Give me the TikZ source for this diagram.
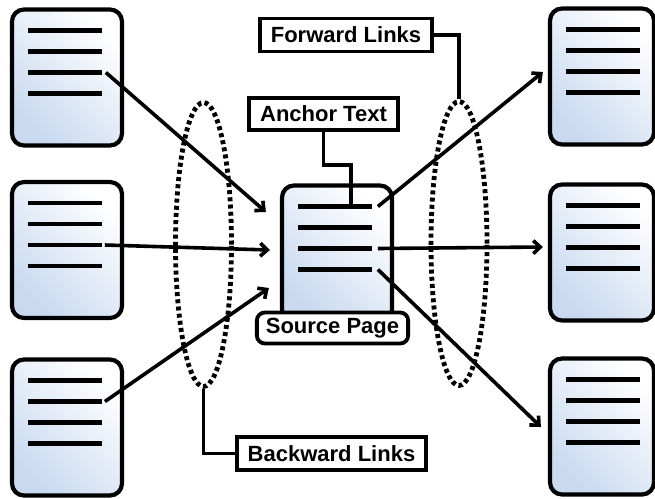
\documentclass[tikz,border=0pt]{standalone}
\usepackage{fontspec}
\setmainfont{Liberation Sans}
\usetikzlibrary{arrows.meta,calc,shapes.geometric}

\definecolor{pageblue}{RGB}{200,217,240}

\tikzset{
  docpage/.style={draw, line width=4.2pt, rounded corners=12pt,
    left color=white, right color=pageblue, shading angle=-45,
    minimum width=110pt, minimum height=136pt, inner sep=0pt},
  docline/.style={line width=4.5pt},
  link/.style={line width=3.6pt, -{Straight Barb[length=7pt,width=13pt,line width=3.6pt]}},
  tagbox/.style={draw, line width=3.8pt, fill=white, inner xsep=11pt,
    minimum height=33pt, font=\fontsize{22}{24}\selectfont\bfseries},
  callout/.style={line width=3.6pt},
  group/.style={draw, ellipse, line width=4.8pt, dash pattern=on 4pt off 3.2pt,
    minimum width=56pt, minimum height=284pt, inner sep=0pt}
}

% four text lines in a page, end points named <page>-1 ... <page>-4
\newcommand{\pagelines}[1]{%
  \foreach \d [count=\i] in {-47,-26,-5,16}
    \draw[docline] ($(#1.west)+(18,\d)$) -- ($(#1.west)+(92,\d)$) coordinate (#1-\i);
}

\begin{document}
\begin{tikzpicture}[x=1pt,y=-1pt]
  \useasboundingbox (0,0) rectangle (655,498);
  \clip (0,0) rectangle (655,498);

  % pages on the left
  \node[docpage] (L1) at (67,77.5) {};
  \node[docpage] (L2) at (67,250) {};
  \node[docpage] (L3) at (67,427.5) {};
  % pages on the right
  \node[docpage, minimum width=104pt] (R1) at (602,76.5) {};
  \node[docpage, minimum width=104pt] (R2) at (602,252.5) {};
  \node[docpage, minimum width=104pt] (R3) at (602,426.5) {};
  % source page
  \node[docpage] (C) at (337,253.5) {};
  \foreach \p in {L1,L2,L3,R1,R2,R3,C} {\pagelines{\p}}

  \node[tagbox, rounded corners=8pt, minimum height=31pt, inner xsep=9pt] (src) at (332.5,328) {Source Page};

  % link groups
  \node[group] (back) at (203.5,244.5) {};
  \node[group] (fwd) at (459,243.5) {};

  % backward links
  \draw[link] ($(L1-3)+(4,0)$) -- ($(C.west)+(-14,-41.5)$);
  \draw[link] ($(L2-3)+(3,0)$) -- ($(C.west)+(-10,-3.5)$);
  \draw[link] ($(L3-2)+(3,0)$) -- ($(C.west)+(-11,34.5)$);
  % forward links
  \draw[link] ($(C-1)+(6,0)$) -- ($(R1.west)+(-5,-4.5)$);
  \draw[link] ($(C-3)+(6,0)$) -- ($(R2.west)+(-5,-5.5)$);
  \draw[link] ($(C-4)+(6,0)$) -- ($(R3.west)+(-7,0.5)$);

  % labels
  \node[tagbox] (fwdtag) at (346,35) {Forward Links};
  \node[tagbox, minimum height=32pt] (anchortag) at (323.5,114) {Anchor Text};
  \node[tagbox] (backtag) at (331.5,453.5) {Backward Links};

  \coordinate (anchorpt) at ($(C-1)+(-21,0)$);
  \draw[callout] (fwdtag.east) -| (fwd.north);
  \draw[callout] (anchortag.south) -- ++(0,33) -| (anchorpt);
  \draw[callout] (backtag.west) -| (back.south);
\end{tikzpicture}
\end{document}
